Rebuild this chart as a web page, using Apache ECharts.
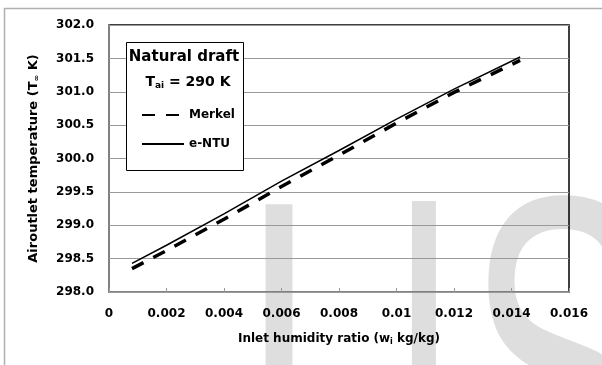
<!DOCTYPE html>
<html>
<head>
<meta charset="utf-8">
<script src="https://cdn.jsdelivr.net/npm/echarts@6/dist/echarts.min.js"></script>
<style>
  html, body { margin: 0; padding: 0; background: #fff; }
  #chart { width: 602px; height: 365px; }
</style>
</head>
<body>
<div id="chart"></div>
<script>
// inlet humidity ratio (kg/kg)
var humidity = [0.0008, 0.002, 0.004, 0.006, 0.008, 0.010, 0.012, 0.0143]
// air outlet temperature (K)
var merkel = [298.35, 298.62, 299.09, 299.58, 300.05, 300.53, 300.99, 301.47]
var entu = [298.43, 298.70, 299.17, 299.66, 300.12, 300.59, 301.04, 301.52]

var font = 'DejaVu Sans'

function pairs(xs, ys) {
  var out = []
  for (var i = 0; i < xs.length; i++) {
    out.push([xs[i], ys[i]])
  }
  return out
}

// big light-grey watermark letter behind the plot
function mark(ch, x, y, family) {
  return {
    type: 'text', z: -1, silent: true, x: x, y: y, scaleX: 0.6,
    style: { text: ch, x: 0, y: 0, verticalAlign: 'top', fontFamily: family, fontSize: 480, fill: '#dedede' }
  }
}

var myChart = echarts.init(document.getElementById('chart'))

var option = {
  animation: false,
  backgroundColor: '#fff',
  grid: {
    left: 109, top: 25, right: 33, bottom: 73,
    show: true, borderColor: '#000', borderWidth: 1.5, backgroundColor: 'transparent'
  },
  legend: {
    orient: 'vertical',
    z: 20,
    left: 136, top: 104,
    itemWidth: 42, itemHeight: 14, itemGap: 17,
    itemStyle: { opacity: 0 },
    textStyle: { fontFamily: font, fontWeight: 'bold', fontSize: 12, color: '#000' },
    data: ['Merkel', 'e-NTU']
  },
  xAxis: {
    type: 'value',
    min: 0, max: 0.016, interval: 0.002,
    name: 'Inlet humidity ratio (w{sub|i} kg/kg)',
    nameLocation: 'middle',
    nameGap: 40,
    nameTextStyle: {
      fontFamily: font, fontWeight: 'bold', fontSize: 12, color: '#000',
      rich: { sub: { fontFamily: font, fontWeight: 'bold', fontSize: 8, color: '#000', verticalAlign: 'bottom', padding: [6, 0, 0, 0] } }
    },
    axisLine: { lineStyle: { color: '#999', width: 1.5 } },
    axisTick: { show: true, inside: true, length: 4, lineStyle: { color: '#999' } },
    splitLine: { show: false },
    axisLabel: {
      margin: 16,
      fontFamily: font, fontWeight: 'bold', fontSize: 12, color: '#000',
      formatter: function (v) { return String(+v.toFixed(3)) }
    }
  },
  yAxis: {
    type: 'value',
    min: 298, max: 302, interval: 0.5,
    name: 'Airoutlet temperature (T{sub|∞} K)',
    nameLocation: 'middle',
    nameGap: 68,
    nameTextStyle: {
      fontFamily: font, fontWeight: 'bold', fontSize: 13, color: '#000',
      rich: { sub: { fontFamily: font, fontWeight: 'bold', fontSize: 8, color: '#000', verticalAlign: 'bottom', padding: [6, 0, 0, 0] } }
    },
    axisLine: { show: true, lineStyle: { color: '#999', width: 1.5 } },
    axisTick: { show: false },
    splitLine: { lineStyle: { color: '#999', width: 1 } },
    axisLabel: {
      margin: 15,
      fontFamily: font, fontWeight: 'bold', fontSize: 12, color: '#000',
      formatter: function (v) { return v.toFixed(1) }
    }
  },
  graphic: [
    // outer frame
    { type: 'rect', z: 0, silent: true, shape: { x: 4.5, y: 8.5, width: 700, height: 500 },
      style: { fill: 'none', stroke: '#b0b0b0', lineWidth: 1.5 } },
    mark('I', 239, 162, 'Liberation Sans'),
    mark('J', 385, 167, 'Open Sans'),
    mark('S', 466, 158, 'Liberation Sans'),
    // legend box
    { type: 'rect', z: 5, shape: { x: 126.5, y: 42.5, width: 117, height: 128 },
      style: { fill: '#fff', stroke: '#000', lineWidth: 1 } },
    { type: 'text', z: 6, x: 184, y: 57, style: {
      text: 'Natural draft', align: 'center', verticalAlign: 'middle',
      fontFamily: font, fontWeight: 'bold', fontSize: 15, fill: '#000' } },
    { type: 'text', z: 6, x: 188, y: 82, style: {
      text: 'T{sub|ai} = 290 K', align: 'center', verticalAlign: 'middle',
      fontFamily: font, fontWeight: 'bold', fontSize: 14, fill: '#000',
      rich: { sub: { fontFamily: font, fontWeight: 'bold', fontSize: 9, fill: '#000', padding: [8, 0, 0, 0] } } } }
  ],
  series: [
    {
      name: 'Merkel',
      type: 'line',
      data: pairs(humidity, merkel),
      showSymbol: false,
      symbol: 'none',
      color: '#000',
      lineStyle: { color: '#000', width: 3.5, type: [13, 11] },
      z: 3
    },
    {
      name: 'e-NTU',
      type: 'line',
      data: pairs(humidity, entu),
      showSymbol: false,
      symbol: 'none',
      color: '#000',
      lineStyle: { color: '#000', width: 1.5 },
      z: 4
    }
  ]
}

myChart.setOption(option)
</script>
</body>
</html>
